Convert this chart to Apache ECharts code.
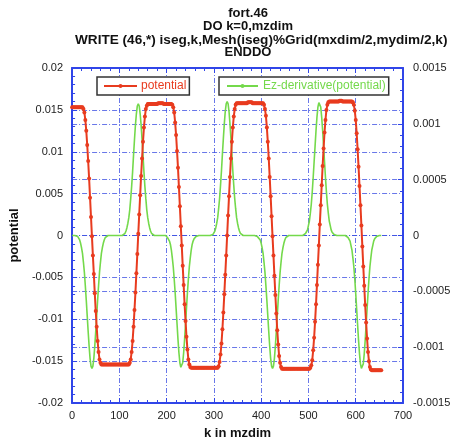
<!DOCTYPE html>
<html><head><meta charset="utf-8">
<script src="https://cdn.jsdelivr.net/npm/echarts@6/dist/echarts.min.js"></script>
<style>html,body{margin:0;padding:0;background:#fff}#c{width:454px;height:445px}</style>
</head><body><div id="c"></div>
<script>
const titleLines = ['fort.46', 'DO k=0,mzdim', 'WRITE (46,*) iseg,k,Mesh(iseg)%Grid(mxdim/2,mydim/2,k)', 'ENDDO'];
const seriesNames = ['potential', 'Ez-derivative(potential)'];
const xAxisName = 'k in mzdim';
const yAxisName = 'potential';
// k sampled every 2 (k = 0, 2, 4, ... 654)
const kStep = 2;
const potential = [
0.0153,0.0153,0.0153,0.0153,0.0153,0.0153,0.0153,0.0153,0.0153,0.0153,0.0153,
0.0153,0.0151,0.0147,0.0138,0.0125,0.0108,0.0089,0.0068,0.0045,0.0022,-0.0001,-0.0024,-0.0046,-0.0069,-0.0090,-0.0109,-0.0126,-0.0139,-0.0148,-0.0152,-0.0154,
-0.0154,-0.0154,-0.0154,-0.0154,-0.0154,-0.0154,-0.0154,
-0.0154,-0.0154,-0.0154,-0.0154,-0.0154,-0.0154,-0.0154,
-0.0154,-0.0154,-0.0154,-0.0154,-0.0154,-0.0154,-0.0154,
-0.0154,-0.0154,-0.0154,-0.0154,-0.0154,-0.0154,-0.0154,
-0.0154,-0.0152,-0.0148,-0.0139,-0.0126,-0.0109,-0.0089,-0.0068,-0.0045,-0.0022,0.0002,0.0025,0.0048,0.0071,0.0092,0.0112,0.0129,0.0142,0.0151,0.0155,0.0157,
0.0157,0.0157,0.0157,0.0157,0.0157,0.0157,0.0157,0.0157,
0.0157,0.0157,0.0158,0.0158,0.0158,0.0158,0.0158,0.0158,
0.0157,0.0157,0.0157,0.0157,0.0157,0.0157,0.0157,0.0157,
0.0157,0.0156,0.0153,0.0147,0.0135,0.0120,0.0101,0.0081,0.0058,0.0035,0.0011,-0.0012,-0.0036,-0.0059,-0.0082,-0.0102,-0.0121,-0.0136,-0.0148,-0.0154,-0.0157,-0.0158,
-0.0158,-0.0158,-0.0158,-0.0158,-0.0158,-0.0158,-0.0158,-0.0158,-0.0158,
-0.0158,-0.0158,-0.0158,-0.0158,-0.0158,-0.0158,-0.0158,-0.0158,-0.0158,
-0.0158,-0.0158,-0.0158,-0.0158,-0.0158,-0.0158,-0.0158,-0.0158,-0.0158,
-0.0158,-0.0156,-0.0151,-0.0142,-0.0129,-0.0112,-0.0092,-0.0070,-0.0047,-0.0024,0.0000,0.0024,0.0047,0.0070,0.0092,0.0112,0.0129,0.0142,0.0151,0.0156,0.0158,
0.0158,0.0158,0.0158,0.0158,0.0158,0.0158,0.0158,0.0158,0.0158,
0.0158,0.0158,0.0159,0.0159,0.0159,0.0159,0.0159,0.0158,0.0158,
0.0158,0.0158,0.0158,0.0158,0.0158,0.0158,0.0158,0.0158,0.0158,
0.0158,0.0156,0.0151,0.0143,0.0129,0.0112,0.0092,0.0070,0.0047,0.0023,-0.0001,-0.0024,-0.0048,-0.0071,-0.0093,-0.0113,-0.0130,-0.0144,-0.0152,-0.0157,-0.0159,
-0.0159,-0.0159,-0.0159,-0.0159,-0.0159,-0.0159,-0.0159,
-0.0159,-0.0159,-0.0159,-0.0159,-0.0159,-0.0159,-0.0159,
-0.0159,-0.0159,-0.0159,-0.0159,-0.0159,-0.0159,-0.0159,
-0.0159,-0.0159,-0.0159,-0.0159,-0.0159,-0.0159,-0.0159,
-0.0159,-0.0158,-0.0155,-0.0149,-0.0137,-0.0122,-0.0103,-0.0082,-0.0059,-0.0035,-0.0012,0.0013,0.0036,0.0060,0.0083,0.0104,0.0123,0.0138,0.0150,0.0156,0.0159,0.0160,
0.0160,0.0160,0.0160,0.0160,0.0160,0.0160,0.0160,0.0160,
0.0160,0.0160,0.0161,0.0161,0.0161,0.0160,0.0160,0.0160,
0.0160,0.0160,0.0160,0.0160,0.0160,0.0160,0.0160,
0.0160,0.0159,0.0156,0.0149,0.0138,0.0122,0.0103,0.0082,0.0059,0.0036,0.0012,-0.0013,-0.0037,-0.0060,-0.0083,-0.0104,-0.0123,-0.0139,-0.0150,-0.0157,-0.0160,-0.0161,
-0.0161,-0.0161,-0.0161,-0.0161,-0.0161,-0.0161,-0.0161,-0.0161,-0.0161,-0.0161
];
const ezDerivative = [
0,0,0,0,
0,-0.00001,-0.00001,-0.00002,-0.00004,-0.00007,-0.00011,-0.00016,-0.00024,-0.00033,-0.00045,-0.00058,-0.00072,-0.00086,-0.00099,-0.00110,-0.00117,-0.00119,-0.00117,-0.00110,-0.00099,-0.00086,-0.00072,-0.00058,-0.00045,-0.00033,-0.00024,-0.00016,-0.00011,-0.00007,-0.00004,-0.00002,-0.00001,-0.00001,
0,0,0,0,0,0,0,0,0,0,0,0,0,0,0,0,
0.00001,0.00001,0.00002,0.00004,0.00007,0.00011,0.00016,0.00023,0.00033,0.00044,0.00057,0.00072,0.00086,0.00099,0.00109,0.00116,0.00118,0.00116,0.00109,0.00099,0.00086,0.00072,0.00057,0.00044,0.00033,0.00023,0.00016,0.00011,0.00007,0.00004,0.00002,0.00001,0.00001,
0,0,0,0,0,0,0,0,0,0,0,0,0,
-0.00001,-0.00002,-0.00003,-0.00005,-0.00008,-0.00013,-0.00020,-0.00028,-0.00039,-0.00051,-0.00065,-0.00079,-0.00093,-0.00105,-0.00114,-0.00118,-0.00118,-0.00114,-0.00105,-0.00093,-0.00079,-0.00065,-0.00051,-0.00039,-0.00028,-0.00020,-0.00013,-0.00008,-0.00005,-0.00003,-0.00002,-0.00001,
0,0,0,0,0,0,0,0,0,0,0,0,0,0,0,0,
0.00001,0.00001,0.00002,0.00004,0.00007,0.00011,0.00016,0.00024,0.00033,0.00045,0.00058,0.00073,0.00087,0.00100,0.00111,0.00118,0.00120,0.00118,0.00111,0.00100,0.00087,0.00073,0.00058,0.00045,0.00033,0.00024,0.00016,0.00011,0.00007,0.00004,0.00002,0.00001,0.00001,
0,0,0,0,0,0,0,0,0,0,0,0,0,0,0,
-0.00001,-0.00001,-0.00002,-0.00004,-0.00007,-0.00011,-0.00016,-0.00024,-0.00033,-0.00045,-0.00058,-0.00072,-0.00086,-0.00099,-0.00110,-0.00117,-0.00119,-0.00117,-0.00110,-0.00099,-0.00086,-0.00072,-0.00058,-0.00045,-0.00033,-0.00024,-0.00016,-0.00011,-0.00007,-0.00004,-0.00002,-0.00001,-0.00001,
0,0,0,0,0,0,0,0,0,0,0,0,0,0,0,0,0,
0.00001,0.00002,0.00003,0.00005,0.00009,0.00013,0.00020,0.00028,0.00039,0.00052,0.00066,0.00080,0.00094,0.00106,0.00115,0.00119,0.00119,0.00115,0.00106,0.00094,0.00080,0.00066,0.00052,0.00039,0.00028,0.00020,0.00013,0.00009,0.00005,0.00003,0.00002,0.00001,
0,0,0,0,0,0,0,0,0,0,0,0,0,
-0.00001,-0.00002,-0.00003,-0.00005,-0.00009,-0.00013,-0.00020,-0.00028,-0.00039,-0.00052,-0.00066,-0.00080,-0.00094,-0.00106,-0.00115,-0.00119,-0.00119,-0.00115,-0.00106,-0.00094,-0.00080,-0.00066,-0.00052,-0.00039,-0.00028,-0.00020,-0.00013,-0.00009,-0.00005,-0.00003,-0.00002,-0.00001,
0,0,0,0,0
];
const xRange = [0, 700, 100];
const yLeftRange = [-0.02, 0.02, 0.005];
const yRightRange = [-0.0015, 0.0015, 0.0005];

const RED = '#e83b1f';
const GREEN = '#74d94b';
const AXIS = '#3045e8';
const GRIDC = 'rgba(55,75,225,0.75)';
const FONT = 'Liberation Sans';
const dashDot = [5, 2, 1, 2];

function frameAxis(extra) {
  return Object.assign({
    axisLine: { show: true, onZero: false, lineStyle: { color: AXIS, width: 2 } },
    axisTick: { show: true, inside: true, length: 5, lineStyle: { color: AXIS, width: 1 } },
    minorTick: { show: true, splitNumber: 5, length: 3, lineStyle: { color: AXIS, width: 1 } },
    splitLine: { show: true, lineStyle: { color: GRIDC, width: 1, type: dashDot } },
    axisLabel: { color: '#222', fontSize: 11, fontFamily: FONT }
  }, extra);
}
const titleTops = [7, 20, 33, 46];
const titles = titleLines.map((t, i) => ({
  text: t,
  left: i === 2 ? 75 : 248,
  top: titleTops[i],
  textAlign: i === 2 ? 'left' : 'center',
  padding: 0,
  textStyle: { fontSize: i === 2 ? 13.6 : 13, fontWeight: 'bold', fontFamily: FONT, color: '#111' }
}));

const chart = echarts.init(document.getElementById('c'), null, { renderer: 'canvas' });
chart.setOption({
  animation: false,
  textStyle: { fontFamily: FONT },
  title: titles,
  legend: [
    { data: [seriesNames[0]], left: 97, top: 77, orient: 'horizontal', padding: [3, 3, 3, 6], itemWidth: 33, itemHeight: 5, itemGap: 4,
      borderColor: '#333', borderWidth: 1.5, backgroundColor: '#fff',
      textStyle: { color: RED, fontSize: 12, fontFamily: FONT, padding: [0, 0, 0, -1] } },
    { data: [seriesNames[1]], left: 219, top: 77, orient: 'horizontal', padding: [3, 3, 3, 7], itemWidth: 31, itemHeight: 5, itemGap: 4,
      borderColor: '#333', borderWidth: 1.5, backgroundColor: '#fff',
      textStyle: { color: GREEN, fontSize: 12, fontFamily: FONT } }
  ],
  grid: { left: 72, right: 51, top: 68, bottom: 35, containLabel: false },
  xAxis: [
    frameAxis({ type: 'value', position: 'bottom', min: xRange[0], max: xRange[1], interval: xRange[2],
      axisLabel: { color: '#222', fontSize: 11, fontFamily: FONT, margin: 7 },
      name: xAxisName, nameLocation: 'middle', nameGap: 24,
      nameTextStyle: { fontWeight: 'bold', fontSize: 13, color: '#111', fontFamily: FONT } }),
    frameAxis({ type: 'value', position: 'top', min: xRange[0], max: xRange[1], interval: xRange[2],
      axisLabel: { show: false }, splitLine: { show: false } })
  ],
  yAxis: [
    frameAxis({ type: 'value', position: 'left', min: yLeftRange[0], max: yLeftRange[1], interval: yLeftRange[2],
      axisLabel: { color: '#222', fontSize: 11, fontFamily: FONT, margin: 9 },
      name: yAxisName, nameLocation: 'middle', nameGap: 41, nameRotate: 90,
      nameTextStyle: { fontWeight: 'bold', fontSize: 13, color: '#111', fontFamily: FONT } }),
    frameAxis({ type: 'value', position: 'right', min: yRightRange[0], max: yRightRange[1], interval: yRightRange[2],
      axisLabel: { color: '#222', fontSize: 11, fontFamily: FONT, margin: 10 } })
  ],
  series: [
    { name: seriesNames[1], type: 'line', xAxisIndex: 0, yAxisIndex: 1,
      data: ezDerivative.map((v, i) => [i * kStep, v]),
      symbol: 'none', lineStyle: { color: GREEN, width: 1.6 }, itemStyle: { color: GREEN }, z: 2 },
    { name: seriesNames[0], type: 'line', xAxisIndex: 0, yAxisIndex: 0,
      data: potential.map((v, i) => [i * kStep, v]),
      symbol: 'circle', symbolSize: 4, showAllSymbol: true,
      lineStyle: { color: RED, width: 2 }, itemStyle: { color: RED }, z: 3 }
  ]
});
</script></body></html>
